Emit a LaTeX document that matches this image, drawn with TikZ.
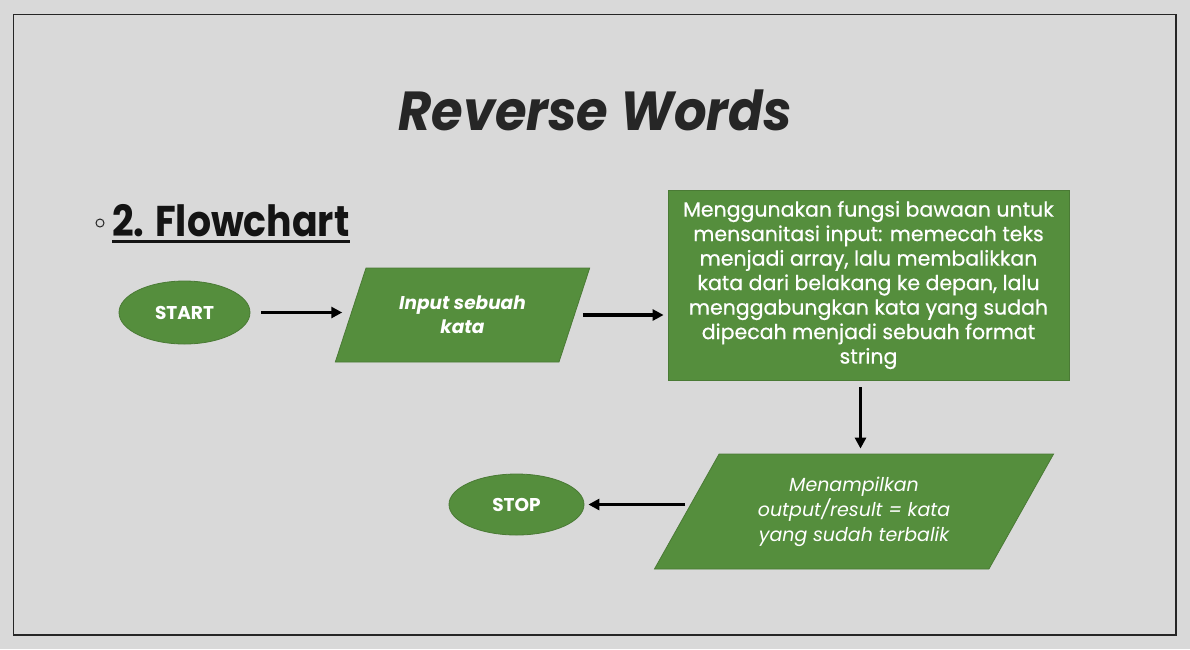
\documentclass[tikz,border=0pt]{standalone}
\usepackage{fontspec}
\setmainfont{Poppins}
\newfontfamily\titlefont[FakeStretch=0.93]{Poppins}
\newfontfamily\headfont[FakeStretch=0.88]{Poppins}
\newfontfamily\procfont[FakeBold=0.6]{Poppins}
\usetikzlibrary{shapes.geometric,arrows.meta}
\definecolor{bg}{HTML}{D9D9D9}
\definecolor{gfill}{HTML}{558E3D}
\definecolor{gline}{HTML}{4A7A35}
\definecolor{ink}{HTML}{262626}
\begin{document}
\begin{tikzpicture}[x=1pt,y=-1pt,
  term/.style={ellipse, draw=gline, fill=gfill, line width=0.8pt, text=white,
    font=\bfseries\fontsize{18.5}{20}\selectfont, inner sep=0pt},
  io/.style={trapezium, trapezium stretches=true, draw=gline, fill=gfill, line width=0.8pt,
    text=white, align=center, inner sep=0pt},
  procbox/.style={rectangle, draw=gline, fill=gfill, line width=0.8pt, text=white,
    align=center, inner sep=0pt, font=\procfont\fontsize{20.5}{24.5}\selectfont},
  arr/.style={-{Triangle[length=11pt,width=11pt]}, line width=3.3pt, black}]
\useasboundingbox (0,0) rectangle (1190,649);
\fill[bg] (0,0) rectangle (1190,649);
\draw[ink, line width=1.5pt] (13.5,14.5) rectangle (1176,635);

\node[font=\titlefont\bfseries\itshape\fontsize{55}{55}\selectfont, text=ink, anchor=base] (title) at (595,130) {Reverse Words};

\node[circle, draw=ink, line width=1pt, minimum size=8pt, inner sep=0pt] (bullet) at (100,223) {};
\node[font=\headfont\bfseries\fontsize{43}{43}\selectfont, text=black!92, anchor=base west, inner sep=0pt] (head) at (112,236) {2. Flowchart};
\draw[black!92, line width=3pt] ([yshift=-5pt]head.base west) -- ([yshift=-5pt]head.base east);

\node[term, minimum width=131pt, minimum height=63pt] (start) at (184.5,312.5) {START};
\node[io, trapezium left angle=62, trapezium right angle=118, minimum width=255pt, minimum height=94pt,
  font=\bfseries\itshape\fontsize{18.5}{24}\selectfont] (input) at (462.5,315) {Input sebuah\\kata};
\node[procbox, minimum width=401pt, minimum height=190pt] (proc) at (868.5,285)
  {Menggunakan fungsi bawaan untuk\\mensanitasi input: memecah teks\\menjadi array, lalu membalikkan\\kata dari belakang ke depan, lalu\\menggabungkan kata yang sudah\\dipecah menjadi sebuah format\\string};
\node[io, trapezium left angle=56.5, trapezium right angle=123.5, minimum width=400pt, minimum height=115pt,
  font=\itshape\fontsize{19}{25}\selectfont] (out) at (854,511.5) {Menampilkan\\output/result = kata\\yang sudah terbalik};
\node[term, minimum width=135pt, minimum height=61pt] (stop) at (516.5,504.5) {STOP};

\draw[arr, shorten <=11pt, shorten >=8pt] (start.east) -- (start.east -| input.west);
\draw[arr, shorten <=8pt, shorten >=4pt] (input.east) -- (input.east -| proc.west);
\draw[arr, shorten <=7pt, shorten >=5pt] ([xshift=-8pt]proc.south) -- ([xshift=-8pt]proc.south |- out.north);
\draw[arr, shorten <=1pt, shorten >=4pt] (out.west |- stop.east) -- (stop.east);
\end{tikzpicture}
\end{document}
